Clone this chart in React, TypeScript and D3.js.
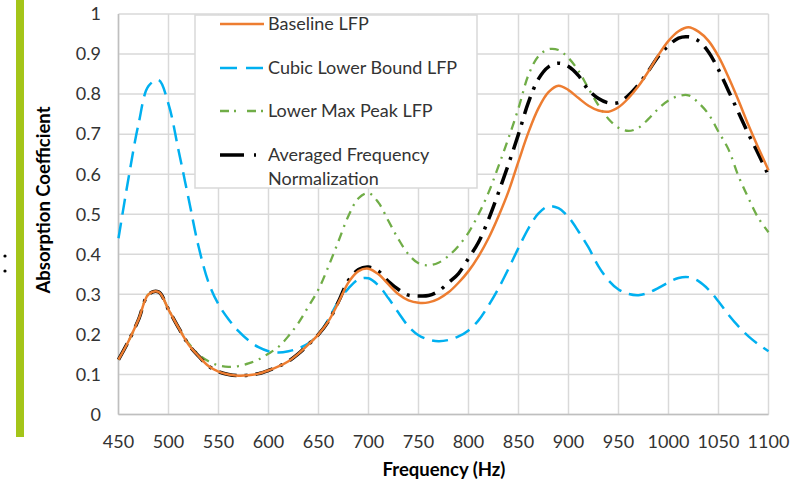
import React from "react";
import * as d3 from "d3";

const freqs = [450, 460, 470, 480, 490, 500, 510, 520, 530, 540, 550, 560, 570, 580, 590, 600, 610, 620, 630, 640, 650, 660, 670, 680, 690, 700, 710, 720, 730, 740, 750, 760, 770, 780, 790, 800, 810, 820, 830, 840, 850, 860, 870, 880, 890, 900, 910, 920, 930, 940, 950, 960, 970, 980, 990, 1000, 1010, 1020, 1030, 1040, 1050, 1060, 1070, 1080, 1090, 1100];

const baseline = [0.137, 0.183, 0.237, 0.300, 0.306, 0.262, 0.217, 0.175, 0.146, 0.121, 0.107, 0.100, 0.097, 0.098, 0.102, 0.110, 0.120, 0.133, 0.152, 0.175, 0.200, 0.233, 0.280, 0.330, 0.358, 0.364, 0.350, 0.325, 0.300, 0.285, 0.279, 0.280, 0.289, 0.305, 0.329, 0.358, 0.395, 0.440, 0.495, 0.557, 0.632, 0.705, 0.765, 0.805, 0.821, 0.810, 0.790, 0.771, 0.759, 0.756, 0.767, 0.790, 0.820, 0.857, 0.898, 0.933, 0.957, 0.967, 0.956, 0.933, 0.894, 0.842, 0.784, 0.722, 0.665, 0.610];

const cubicLower = [0.440, 0.590, 0.725, 0.820, 0.835, 0.775, 0.660, 0.540, 0.420, 0.330, 0.275, 0.238, 0.208, 0.185, 0.168, 0.158, 0.155, 0.158, 0.165, 0.178, 0.200, 0.238, 0.283, 0.315, 0.337, 0.340, 0.322, 0.290, 0.254, 0.220, 0.198, 0.187, 0.183, 0.186, 0.195, 0.210, 0.235, 0.272, 0.315, 0.364, 0.416, 0.465, 0.502, 0.520, 0.515, 0.493, 0.457, 0.417, 0.370, 0.335, 0.312, 0.301, 0.298, 0.304, 0.316, 0.330, 0.341, 0.343, 0.333, 0.312, 0.282, 0.249, 0.220, 0.195, 0.175, 0.158];

const lowerMaxPeak = [0.137, 0.183, 0.237, 0.300, 0.306, 0.262, 0.217, 0.178, 0.150, 0.133, 0.1225, 0.119, 0.121, 0.1275, 0.1375, 0.152, 0.169, 0.196, 0.229, 0.270, 0.3125, 0.370, 0.433, 0.496, 0.540, 0.553, 0.529, 0.483, 0.4375, 0.400, 0.3775, 0.3725, 0.379, 0.396, 0.421, 0.454, 0.500, 0.554, 0.620, 0.690, 0.765, 0.848, 0.895, 0.912, 0.910, 0.890, 0.858, 0.814, 0.772, 0.738, 0.716, 0.708, 0.716, 0.738, 0.764, 0.784, 0.795, 0.797, 0.778, 0.750, 0.706, 0.662, 0.595, 0.540, 0.490, 0.455];

const averaged = [0.137, 0.183, 0.237, 0.300, 0.306, 0.262, 0.217, 0.175, 0.146, 0.121, 0.107, 0.100, 0.097, 0.098, 0.102, 0.110, 0.120, 0.133, 0.152, 0.175, 0.200, 0.233, 0.282, 0.335, 0.362, 0.368, 0.358, 0.332, 0.312, 0.298, 0.296, 0.297, 0.308, 0.329, 0.352, 0.390, 0.430, 0.487, 0.554, 0.625, 0.700, 0.780, 0.838, 0.868, 0.877, 0.869, 0.846, 0.810, 0.789, 0.778, 0.779, 0.797, 0.824, 0.858, 0.895, 0.921, 0.940, 0.943, 0.933, 0.905, 0.861, 0.808, 0.754, 0.700, 0.650, 0.597];

const seriesNames = ["Baseline LFP", "Cubic Lower Bound LFP", "Lower Max Peak LFP", "Averaged Frequency"];
const xTicks = [450, 500, 550, 600, 650, 700, 750, 800, 850, 900, 950, 1000, 1050, 1100];
const yTicks = [0, 0.1, 0.2, 0.3, 0.4, 0.5, 0.6, 0.7, 0.8, 0.9, 1];
const yTickLabels = ["0", "0.1", "0.2", "0.3", "0.4", "0.5", "0.6", "0.7", "0.8", "0.9", "1"];

const W = 791;
const H = 484;
const plot = { left: 118.5, right: 768.5, top: 14, bottom: 414.5 };
const FONT = "Lato, 'Open Sans', sans-serif";

export default function App() {
  const x = d3.scaleLinear().domain([450, 1100]).range([plot.left, plot.right]);
  const y = d3.scaleLinear().domain([0, 1]).range([plot.bottom, plot.top]);
  const line = d3
    .line<[number, number]>()
    .x((d) => x(d[0]))
    .y((d) => y(d[1]))
    .curve(d3.curveCatmullRom.alpha(0.5));
  const mk = (vals: number[]) => line(freqs.map((f, i) => [f, vals[i]] as [number, number])) || "";

  const styles = [
    { data: baseline, color: "#ED7D31", width: 2.5, dash: undefined as string | undefined, legDash: undefined as string | undefined },
    { data: cubicLower, color: "#00B0F0", width: 2.5, dash: "16 8", legDash: "17 9" },
    { data: lowerMaxPeak, color: "#70AD47", width: 2.3, dash: "9 6 2 6", legDash: "9 5 2 11" },
    { data: averaged, color: "#000000", width: 3.5, dash: "18 8 3 8", legDash: "24 10 2 10" },
  ];
  const drawOrder = [2, 1, 3, 0];

  const legRows = [24, 68, 111, 155];

  return (
    <svg
      width={W}
      height={H}
      style={{ position: "absolute", left: 0, top: 0, background: "#fff" }}
      fontFamily={FONT}
    >
      <rect x={16} y={0} width={8} height={437} fill="#A4C519" />
      <circle cx={5} cy={256} r={1.6} fill="#000" />
      <circle cx={5} cy={271} r={1.6} fill="#000" />

      {yTicks.map((t) => (
        <line key={"gy" + t} x1={plot.left} x2={plot.right} y1={y(t)} y2={y(t)} stroke="#D9D9D9" strokeWidth={1.5} />
      ))}
      {xTicks.map((t) => (
        <line key={"gx" + t} x1={x(t)} x2={x(t)} y1={plot.top} y2={plot.bottom} stroke="#D9D9D9" strokeWidth={1.5} />
      ))}
      <line x1={plot.left} x2={plot.right} y1={plot.bottom} y2={plot.bottom} stroke="#BFBFBF" strokeWidth={1.5} />
      <line x1={plot.left} x2={plot.left} y1={plot.top} y2={plot.bottom} stroke="#BFBFBF" strokeWidth={1.5} />

      {yTicks.map((t, i) => (
        <text key={"ty" + t} x={101} y={y(t)} dy="0.35em" textAnchor="end" fontSize={18} fill="#333">
          {yTickLabels[i]}
        </text>
      ))}
      {xTicks.map((t) => (
        <text key={"tx" + t} x={x(t)} y={448} textAnchor="middle" fontSize={18} fill="#333">
          {t}
        </text>
      ))}

      <text x={444} y={476} textAnchor="middle" fontSize={18.5} fontWeight="bold" fill="#000">
        Frequency (Hz)
      </text>
      <text
        transform={`translate(50,200) rotate(-90)`}
        textAnchor="middle"
        fontSize={18.5}
        fontWeight="bold"
        fill="#000"
      >
        Absorption Coefficient
      </text>

      {drawOrder.map((i) => {
        const s = styles[i];
        return (
          <path
            key={"s" + i}
            d={mk(s.data)}
            fill="none"
            stroke={s.color}
            strokeWidth={s.width}
            strokeDasharray={s.dash}
            strokeLinejoin="round"
          />
        );
      })}

      <rect x={195} y={15} width={282} height={173} fill="#fff" stroke="#D9D9D9" strokeWidth={1.5} />
      {styles.map((s, i) => (
        <g key={"lg" + i}>
          <line
            x1={220}
            x2={264}
            y1={legRows[i]}
            y2={legRows[i]}
            stroke={s.color}
            strokeWidth={s.width}
            strokeDasharray={s.legDash}
          />
          <text x={268} y={legRows[i]} dy="0.35em" fontSize={18} fill="#333">
            {seriesNames[i]}
          </text>
        </g>
      ))}
      <text x={268} y={179} dy="0.35em" fontSize={18} fill="#333">
        Normalization
      </text>
    </svg>
  );
}
